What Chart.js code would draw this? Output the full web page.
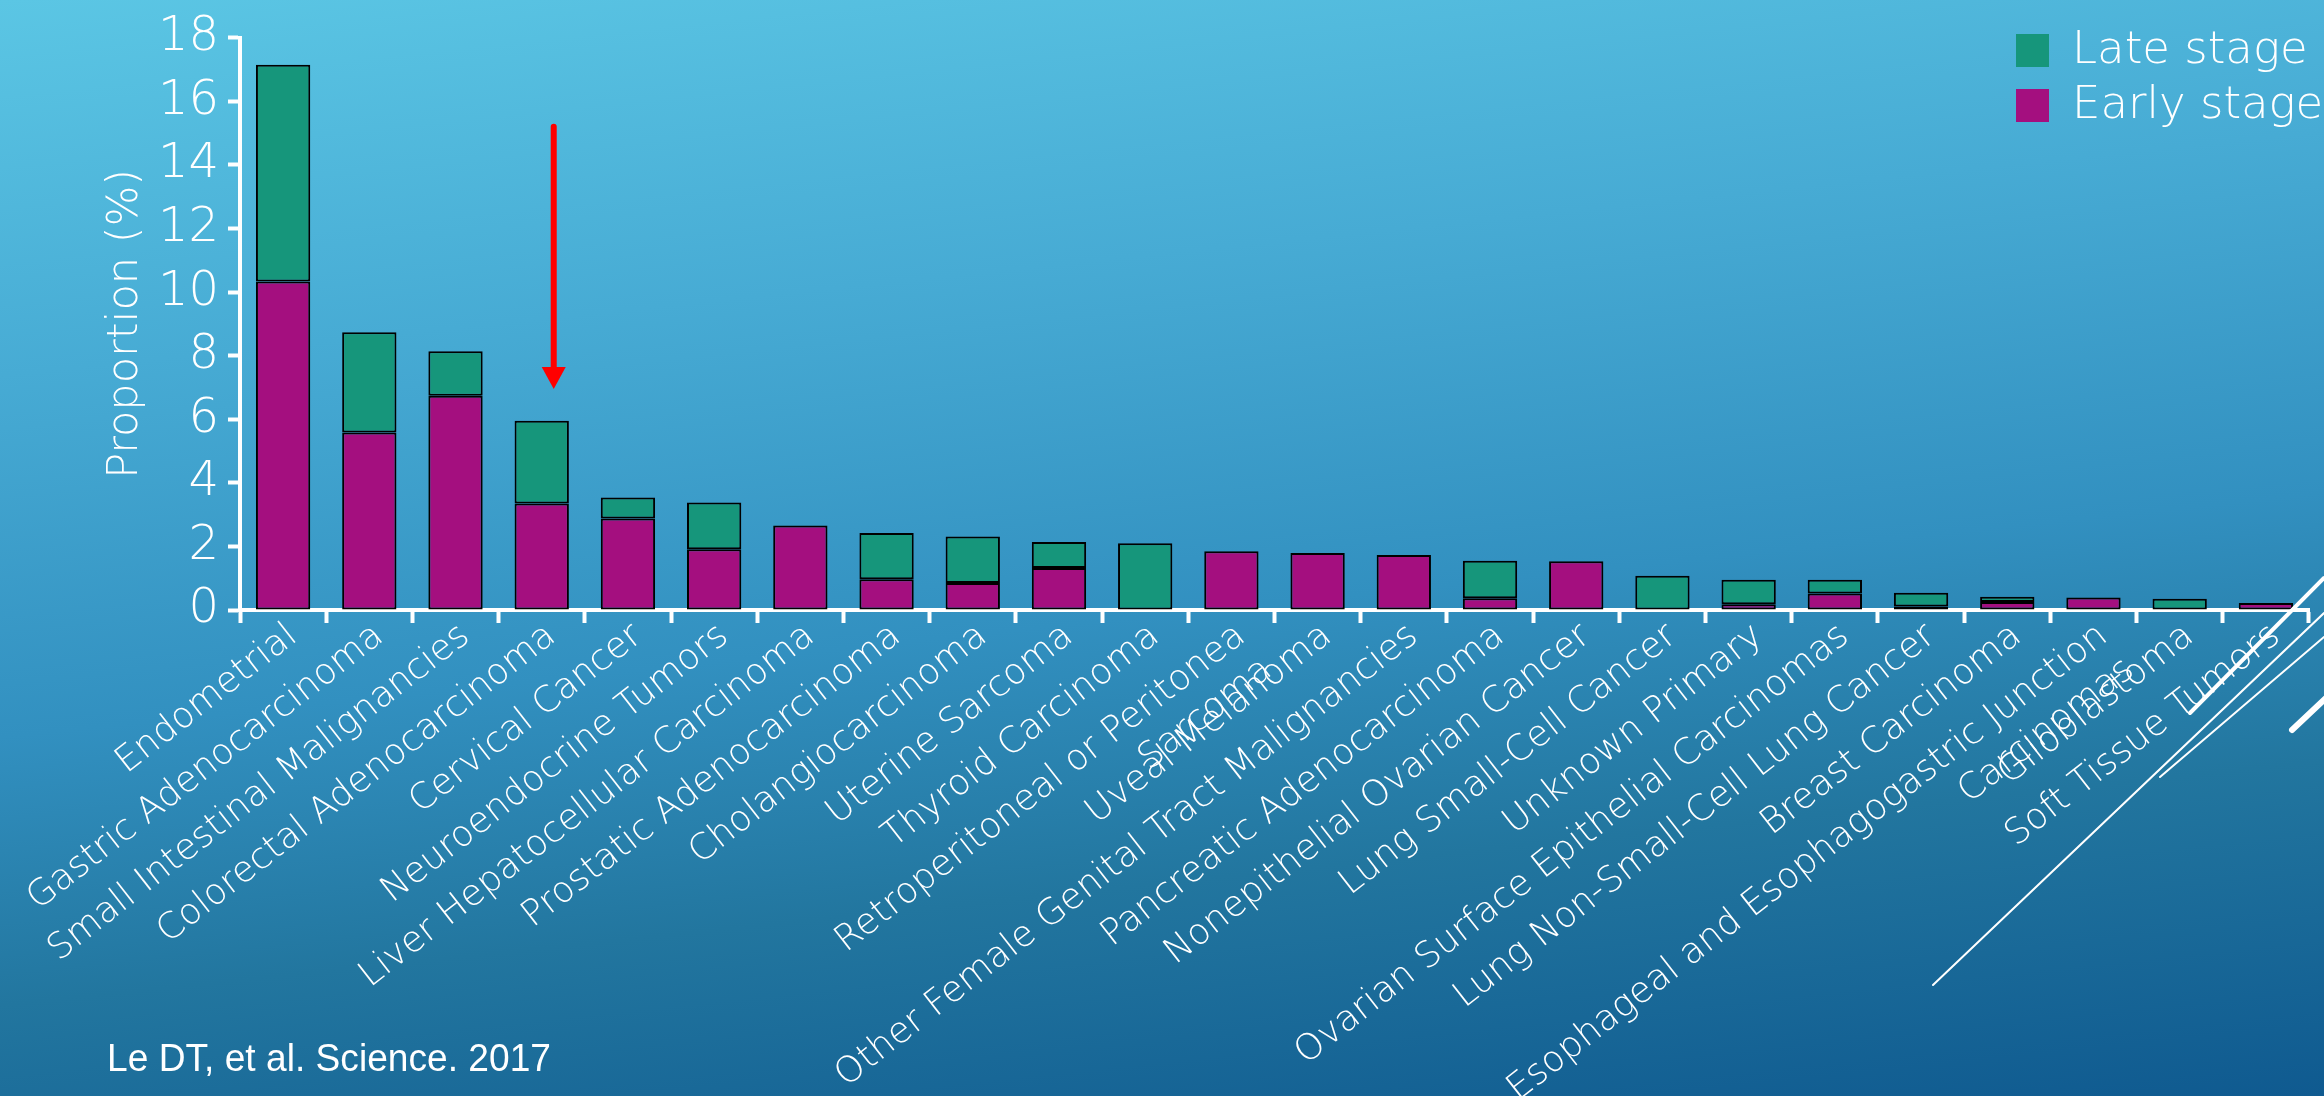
<!DOCTYPE html>
<html>
<head>
<meta charset="utf-8">
<title>Proportion by tumour type</title>
<script src="https://cdn.jsdelivr.net/npm/chart.js@4.4.1/dist/chart.umd.min.js"></script>
<style>
  html, body { margin: 0; padding: 0; }
  body {
    width: 2324px; height: 1096px; overflow: hidden;
    background: linear-gradient(174deg, #5bc6e4 0%, #47abd4 28%, #3290c0 55%, #22769f 75%, #0f5a90 100%);
  }
</style>
</head>
<body>
<canvas id="chart" width="2324" height="1096"></canvas>
<script>
// categories, left to right
const categories = [
    "Endometrial",
    "Gastric Adenocarcinoma",
    "Small Intestinal Malignancies",
    "Colorectal Adenocarcinoma",
    "Cervical Cancer",
    "Neuroendocrine Tumors",
    "Liver Hepatocellular Carcinoma",
    "Prostatic Adenocarcinoma",
    "Cholangiocarcinoma",
    "Uterine Sarcoma",
    "Thyroid Carcinoma",
    ["Retroperitoneal or Peritonea", "Sarcoma"],
    "Uveal Melanoma",
    "Other Female Genital Tract Malignancies",
    "Pancreatic Adenocarcinoma",
    "Nonepithelial Ovarian Cancer",
    "Lung Small-Cell Cancer",
    "Unknown Primary",
    "Ovarian Surface Epithelial Carcinomas",
    "Lung Non-Small-Cell Lung Cancer",
    "Breast Carcinoma",
    ["Esophageal and Esophagogastric Junction", "Carcinomas"],
    "Glioblastoma",
    "Soft Tissue Tumors"
];

// proportion (%) per stage, stacked: early at the bottom, late on top
const earlyStage = [10.33, 5.58, 6.74, 3.35, 2.88, 1.91, 2.66, 0.97, 0.85, 1.32, 0,
                    1.85, 1.79, 1.73, 0.37, 1.53, 0, 0.18, 0.52, 0.11, 0.25, 0.39, 0, 0.22];
const lateStage  = [6.82, 3.16, 1.40, 2.60, 0.66, 1.47, 0, 1.45, 1.46, 0.82, 2.10,
                    0, 0, 0, 1.18, 0, 1.08, 0.77, 0.43, 0.43, 0.17, 0, 0.35, 0];

const yTicks = [0, 2, 4, 6, 8, 10, 12, 14, 16, 18];

// red arrow over the colorectal bar (category index, start value, tip value)
const arrowCategory = 3;
const arrowFrom = 15.2;
const arrowTo = 6.95;

const citation = "Le DT, et al. Science. 2017";

const GREEN = '#16967b';
const MAGENTA = '#a40f7f';
const FONT = '"DejaVu Sans", sans-serif';

const decorPlugin = {
    id: 'decor',
    afterDraw(chart) {
        const ctx = chart.ctx;
        const x = chart.scales.x, y = chart.scales.y;

        // arrow
        const ax = x.getPixelForValue(arrowCategory) + 12;
        const y0 = y.getPixelForValue(arrowFrom);
        const y1 = y.getPixelForValue(arrowTo);
        ctx.save();
        ctx.strokeStyle = '#ff0000';
        ctx.fillStyle = '#ff0000';
        ctx.lineWidth = 6;
        ctx.lineCap = 'round';
        ctx.beginPath();
        ctx.moveTo(ax, y0);
        ctx.lineTo(ax, y1 - 18);
        ctx.stroke();
        ctx.beginPath();
        ctx.moveTo(ax - 12, y1 - 22);
        ctx.lineTo(ax + 12, y1 - 22);
        ctx.lineTo(ax, y1);
        ctx.closePath();
        ctx.fill();
        ctx.restore();

        // legend, late stage first
        const items = [["Late stage", GREEN], ["Early stage", MAGENTA]];
        ctx.save();
        ctx.font = '200 45px ' + FONT;
        ctx.textBaseline = 'middle';
        items.forEach((it, i) => {
            const top = 34 + i * 55;
            ctx.fillStyle = it[1];
            ctx.fillRect(2016, top, 33, 33);
            ctx.fillStyle = '#ffffff';
            ctx.fillText(it[0], 2072, top + 17);
        });

        // citation
        ctx.font = '39px "Liberation Sans", Arial, sans-serif';
        ctx.textBaseline = 'alphabetic';
        ctx.fillText(citation, 107, 1071, 444);

        // slide theme lines bottom right
        ctx.strokeStyle = '#ffffff';
        ctx.lineCap = 'round';
        ctx.lineWidth = 2;
        ctx.beginPath();
        ctx.moveTo(1933, 985); ctx.lineTo(2324, 613);
        ctx.moveTo(2160, 777); ctx.lineTo(2324, 637);
        ctx.stroke();
        ctx.lineWidth = 4;
        ctx.beginPath();
        ctx.moveTo(2190, 713); ctx.lineTo(2324, 578);
        ctx.stroke();
        ctx.lineWidth = 6;
        ctx.beginPath();
        ctx.moveTo(2292, 730); ctx.lineTo(2326, 698);
        ctx.stroke();
        ctx.restore();
    }
};

const ctx = document.getElementById('chart').getContext('2d');

new Chart(ctx, {
    type: 'bar',
    data: {
        labels: categories,
        datasets: [{
            label: 'Early stage',
            data: earlyStage,
            backgroundColor: MAGENTA,
            borderColor: '#000000',
            borderWidth: 2,
            borderSkipped: false,
            barPercentage: 0.63,
            categoryPercentage: 1
        }, {
            label: 'Late stage',
            data: lateStage,
            backgroundColor: GREEN,
            borderColor: '#000000',
            borderWidth: 2,
            borderSkipped: false,
            barPercentage: 0.63,
            categoryPercentage: 1
        }]
    },
    options: {
        responsive: false,
        animation: false,
        layout: { padding: { top: 29, right: 15, left: 0, bottom: 0 } },
        plugins: {
            legend: { display: false },
            tooltip: { enabled: false }
        },
        scales: {
            x: {
                stacked: true,
                border: { color: '#ffffff', width: 4 },
                grid: {
                    display: true,
                    drawOnChartArea: false,
                    drawTicks: true,
                    tickLength: 13,
                    tickWidth: 4,
                    color: '#ffffff',
                    offset: true
                },
                ticks: {
                    color: '#ffffff',
                    font: { family: FONT, size: 36, weight: '200' },
                    minRotation: 38,
                    maxRotation: 38,
                    autoSkip: false,
                    labelOffset: 10,
                    padding: -8
                },
                afterFit: function (scale) { scale.height = 486; }
            },
            y: {
                stacked: true,
                min: 0,
                max: 18,
                border: { color: '#ffffff', width: 4 },
                grid: {
                    display: true,
                    drawOnChartArea: false,
                    drawTicks: true,
                    tickLength: 12,
                    tickWidth: 4,
                    color: '#ffffff'
                },
                afterBuildTicks: function (scale) {
                    scale.ticks = yTicks.map(v => ({ value: v }));
                },
                ticks: {
                    color: '#ffffff',
                    font: { family: FONT, size: 48, weight: '200' },
                    padding: 9
                },
                title: {
                    display: true,
                    text: 'Proportion (%)',
                    color: '#ffffff',
                    font: { family: FONT, size: 43, weight: '200' },
                    padding: { top: 100, bottom: 0 }
                },
                afterFit: function (scale) { scale.width = 240; }
            }
        }
    },
    plugins: [decorPlugin]
});
</script>
</body>
</html>
